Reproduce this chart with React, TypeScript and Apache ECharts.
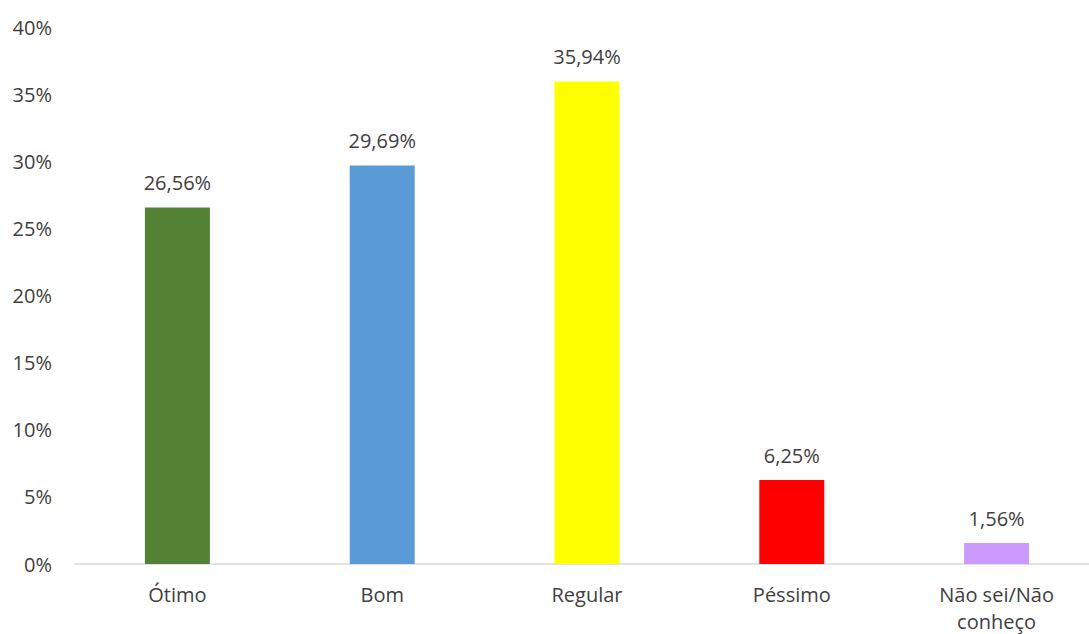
import React, { useEffect, useRef } from "react";
import * as echarts from "echarts";

const categories = ["Ótimo", "Bom", "Regular", "Péssimo", "Não sei/Não\nconheço"];
const values = [26.56, 29.69, 35.94, 6.25, 1.56];
const barColors = ["#548235", "#5B9BD5", "#FFFF00", "#FF0000", "#CC99FF"];
const yTicks = [0, 5, 10, 15, 20, 25, 30, 35, 40];

const FONT = "'Open Sans', 'Noto Sans', sans-serif";
const TXT = "#404040";

export default function App() {
  const ref = useRef<HTMLDivElement>(null);
  useEffect(() => {
    if (!ref.current) return;
    const chart = echarts.init(ref.current, undefined, { renderer: "svg" });
    chart.setOption({
      animation: false,
      backgroundColor: "#ffffff",
      grid: {
        left: 75,
        right: -10,
        top: 27,
        bottom: 70,
        containLabel: false,
        outerBoundsMode: "none",
      },
      xAxis: {
        type: "category",
        data: categories,
        axisLine: { lineStyle: { color: "#D9D9D9", width: 1.5 } },
        axisTick: { show: false },
        axisLabel: {
          color: TXT,
          fontFamily: FONT,
          fontSize: 20,
          margin: 17,
          lineHeight: 27,
          interval: 0,
        },
      },
      yAxis: {
        type: "value",
        min: yTicks[0],
        max: yTicks[yTicks.length - 1],
        interval: 5,
        splitLine: { show: false },
        axisLine: { show: false },
        axisTick: { show: false },
        axisLabel: {
          color: TXT,
          fontFamily: FONT,
          fontSize: 20,
          margin: 23,
          formatter: (v: number) => `${v}%`,
        },
      },
      series: [
        {
          type: "bar",
          barWidth: 65,
          data: values.map((v, i) => ({ value: v, itemStyle: { color: barColors[i] } })),
          label: {
            show: true,
            position: "top",
            distance: 15,
            color: TXT,
            fontFamily: FONT,
            fontSize: 20,
            formatter: (p: any) => `${p.value.toFixed(2).replace(".", ",")}%`,
          },
        },
      ],
    });
    return () => chart.dispose();
  }, []);
  return (
    <div
      ref={ref}
      style={{ position: "fixed", left: 0, top: 0, width: 1089, height: 634, background: "#fff" }}
    />
  );
}
